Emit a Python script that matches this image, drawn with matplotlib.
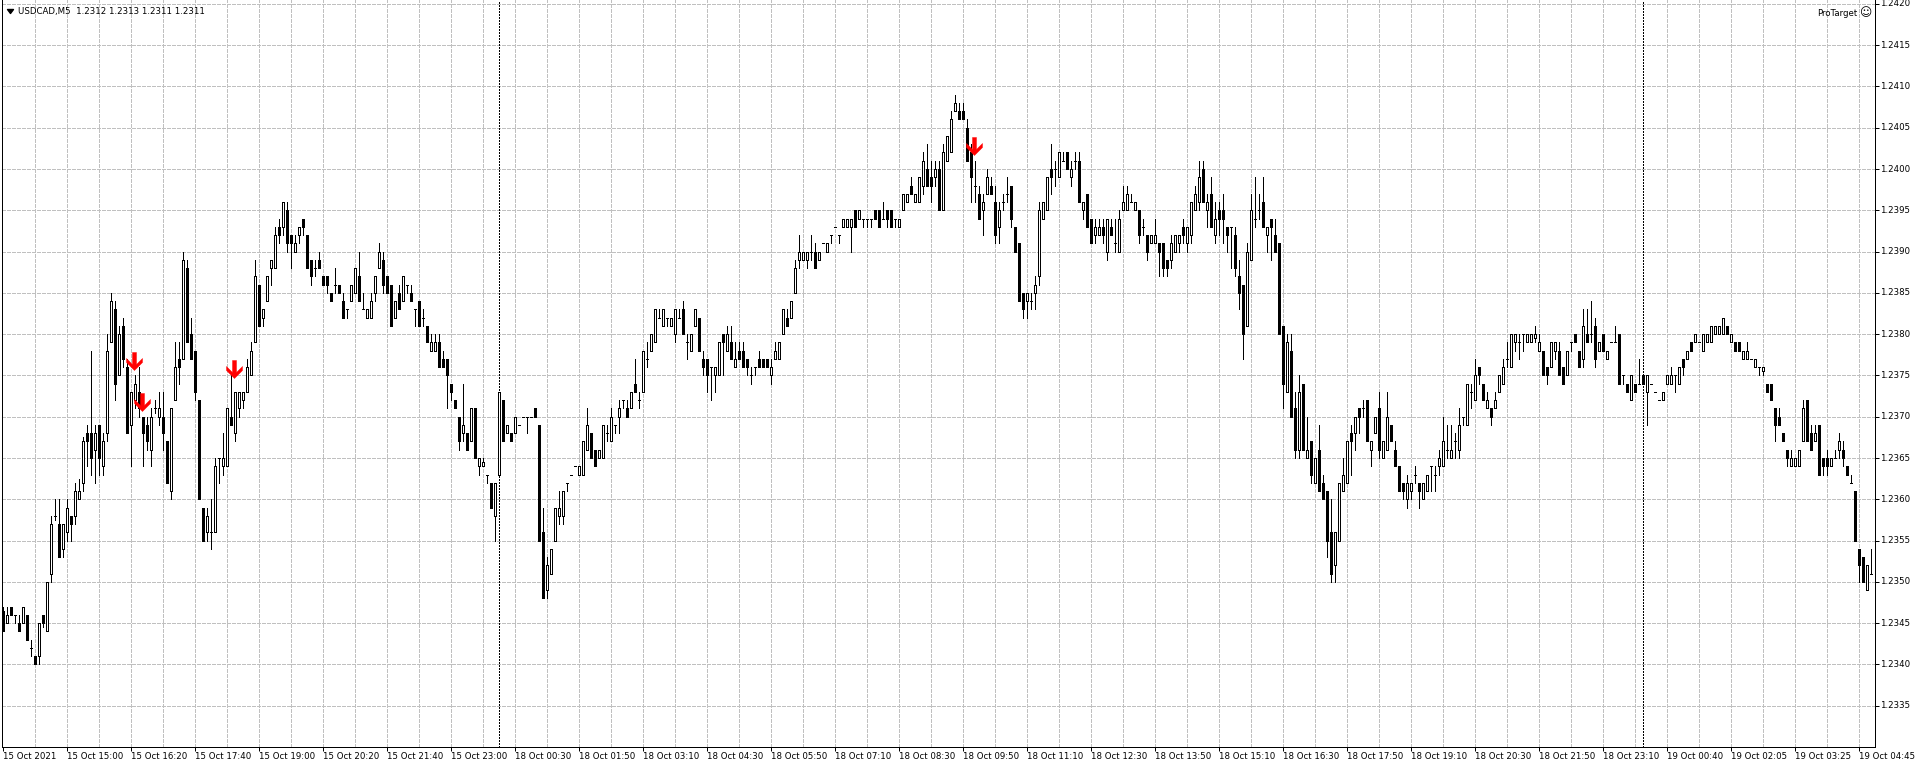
import matplotlib
matplotlib.use("Agg")
import matplotlib.pyplot as plt
import numpy as np
from matplotlib.path import Path
from matplotlib.lines import Line2D

# ---------------- data (USDCAD M5, prices as pips above 1.2300) ----------------
BASE = 1.2300
PIP = 0.0001

open_pips = [
    46.5, 45, 47, 46, 45, 45, 46, 42, 41, 41, 46, 44, 51, 58, 57, 54,
    56, 58, 58, 60, 62, 68, 68, 66, 69, 64, 68, 79, 83, 75, 81, 76,
    69, 72, 73, 70, 69, 66, 71, 70, 70, 67, 61, 72, 77, 77, 88, 80,
    78, 72, 59, 56, 56, 56, 65, 64, 64, 70, 68, 71, 72, 73, 75, 79,
    86, 82, 84, 88, 88, 93, 93, 95, 92, 90, 92, 94, 92, 89, 88, 89,
    87, 87, 85, 86, 86, 84, 83, 84, 85, 87, 83, 82, 82, 85, 88, 89,
    87, 86, 82, 85, 84, 86, 85, 83, 84, 82, 81, 78, 78, 79, 77, 77,
    74, 72, 70, 68, 68, 67, 71, 64, 64, 63, 62, 58, 63, 72, 68, 68,
    68, 69, 70, 70, 70, 71, 69, 56, 49, 51, 55, 58, 58, 62, 63, 64,
    63, 63, 66, 68, 66, 65, 65, 68, 67, 69, 70, 72, 71, 71, 74, 72,
    73, 77, 78, 79, 82, 81, 82, 81, 80, 82, 83, 79, 78, 81, 82, 77,
    77, 76, 75, 75, 80, 78, 79, 76, 78, 78, 77, 75, 76, 77, 77, 77,
    75, 77, 77, 80, 82, 82, 85, 89, 89, 89, 90, 90, 89, 91, 90, 92,
    93, 92, 93, 93, 93, 95, 94, 94, 94, 94, 95, 95, 94, 95, 95, 94,
    93, 95, 96, 98, 96, 96, 98, 100, 99, 99, 100, 95, 101, 102, 107, 107,
    107, 105, 102, 98, 97, 95, 97, 98, 96, 93, 96, 97, 98, 93, 91, 85,
    84, 84, 85, 87, 94, 95, 100, 100, 99, 101, 102, 99, 101, 101, 95, 97,
    94, 92, 92, 93, 90, 93, 91, 90, 95, 95, 96, 95, 95, 93, 92, 91,
    91, 91, 91, 89, 89, 90, 91, 93, 91, 92, 95, 96, 100, 95, 97, 92,
    95, 95, 93, 93, 92, 87, 86, 81, 89, 94, 95, 96, 92, 94, 92, 91,
    81, 73, 78, 71, 66, 74, 65, 67, 62, 66, 62, 61, 56, 52, 55, 61,
    62, 68, 68, 71, 71, 72, 66, 68, 71, 65, 66, 69, 66, 64, 62, 60,
    61, 63, 62, 60, 61, 64, 63, 64, 64, 66, 65, 67, 66, 70, 69, 73,
    72, 76, 74, 71, 71, 71, 73, 74, 77, 76, 79, 79, 80, 79, 79, 79.5,
    78, 78, 76, 76, 78, 78, 76, 75, 79, 80, 78, 77, 80, 80, 81, 78,
    80, 77, 79, 79, 80, 75, 74, 72, 74, 74, 75, 73, 74, 73, 72, 72,
    74, 74, 75, 74, 77, 77, 79, 79, 79, 78, 79, 79, 80, 80, 80, 81,
    79, 79, 79, 77, 77, 77, 76, 76, 75.5, 74, 74, 71, 70, 68, 66, 64,
    64, 64, 67, 72, 68, 67, 69, 65, 65, 64, 65, 66, 66, 64, 62, 61,
    54, 53, 49, 51,
]

high_pips = [
    47, 47, 47, 46, 46, 47, 46, 43, 41, 45, 46, 50, 58, 60, 60, 57,
    60, 58, 62, 62.5, 67.5, 69, 78, 69, 69, 68, 80, 85, 84, 81, 82, 77,
    73, 75, 76, 70, 70, 71, 72, 73, 73, 67, 71, 79, 79, 90, 89, 82,
    78, 72, 59, 59, 60, 65, 65, 68, 71, 75, 73, 73, 73, 77, 79, 89,
    86, 83, 87, 89, 93, 94, 96, 96, 92, 92, 93, 94, 92, 89, 89, 90,
    87, 87, 85, 88, 86, 85, 83, 86, 88, 90, 85, 83, 85, 87, 91, 90,
    87, 86, 84, 86, 87, 86, 86, 83, 84, 83, 81, 80, 80, 80, 78, 77,
    74, 72, 70, 74, 68, 71, 71, 65, 65, 63, 62, 62, 73, 72, 69, 68,
    70, 69, 70, 70, 70, 71, 69, 59, 53, 54, 59, 61, 61, 62, 63, 64,
    64, 67, 71, 68, 66, 66, 69, 69, 71, 69, 72, 72, 72, 73, 77, 73,
    78, 79, 80, 83, 83, 83, 82, 82, 83, 83, 84, 80, 80, 83, 82, 78,
    77, 76, 76, 79, 80, 81, 81, 79, 79, 79, 77, 76, 76, 78, 77, 77,
    77, 79, 79, 83, 83, 84, 89, 92, 90, 90, 92, 91, 90, 91, 91, 92,
    93, 92, 94, 94, 94, 95, 95, 94, 94, 94, 95, 95, 96, 95, 95, 94,
    94, 97, 97, 99, 97, 99, 102, 103, 101, 101, 101, 103, 104, 107, 109, 108,
    108, 106, 103, 101, 98, 97, 100, 99, 98, 96, 97, 99, 98, 93, 91, 85,
    85, 85, 87, 96, 96, 99, 103, 101, 102, 102, 102, 101, 102, 102, 96, 97,
    94, 94, 94, 94, 94, 94, 94, 95, 98, 98, 97, 96, 95, 94, 92, 92,
    94, 91, 91, 89, 92, 92, 92, 94, 93, 96, 98, 101, 101, 97, 99, 96,
    96, 97, 93, 93, 93, 89, 86, 91, 97, 99, 97, 99, 93, 94, 94, 91,
    81, 80, 80, 73, 75, 74, 70, 67, 65, 69, 63, 61, 60, 56, 62, 65,
    67, 69, 70, 71, 72, 72, 67, 70, 73, 67, 73, 69, 67, 64, 62, 63,
    62, 64, 62, 62, 63, 64, 64, 66, 70, 69, 69, 68, 71, 70, 74, 74,
    77, 76, 74, 73, 71, 73, 75, 77, 79, 80, 80, 80, 80, 80, 80, 81,
    80, 78, 76, 79, 79, 79, 76, 78, 79, 80, 78, 83, 83, 84, 82, 79,
    80, 78, 79, 81, 80, 75, 74, 75, 74, 77, 75, 75, 74, 73, 72, 73,
    75, 76, 75, 76, 77, 78, 79, 80, 79, 80, 80, 81, 81, 81, 82, 81,
    80, 79, 79, 78, 79, 77, 77, 76, 76, 74, 74, 71, 71, 68, 66, 66,
    65, 66, 72, 72, 69, 69, 69, 65, 66, 65, 66, 68, 67, 64, 63, 61,
    54, 53, 52, 54,
]

low_pips = [
    44, 45, 46, 45, 44, 45, 43, 41, 40, 40, 44.5, 44, 50, 57.5, 53, 53,
    55, 55, 57, 60, 61, 64, 63, 62, 63, 63, 67, 79, 72, 75, 76, 68,
    64, 71, 70, 64, 66, 64, 70.5, 69, 66, 62, 60, 72, 74, 77, 79, 77,
    72, 60, 55, 55, 54, 56, 62, 63, 64, 69, 67, 70, 71, 73, 75, 79,
    81, 81, 84, 86, 88, 91, 92, 90, 88, 90, 91, 92, 88, 86, 87, 88,
    86, 85, 84, 85, 85, 82, 82, 84, 85, 84, 83, 82, 82, 84, 88, 85,
    85, 81, 82, 83, 84, 85, 84, 81, 81, 81, 79, 78, 78, 76, 76, 71,
    72, 71, 66, 67, 66, 67, 65, 63, 64, 62, 59, 55, 63, 67, 68, 67,
    68, 69, 70, 68, 70, 70, 55, 48, 48, 51, 55, 57, 57, 61, 63, 64,
    63, 63, 66, 65, 64, 65, 65, 67, 67, 68, 68, 71, 70, 71, 73, 71,
    73, 76, 78, 79, 82, 81, 81, 81, 79, 82, 80, 77, 78, 81, 78, 75,
    73, 72, 73, 75, 75, 78, 77, 76, 77, 76, 75, 74, 75, 76, 76, 76,
    74, 77, 77, 80, 81, 82, 85, 88, 89, 88, 89, 88, 89, 91, 90, 91,
    93, 91, 93, 93, 90, 93, 94, 93, 93, 93, 94, 93, 94, 93, 93, 93,
    93, 95, 96, 97, 96, 96, 97, 98, 96, 98, 95, 95, 101, 102, 107, 106,
    106, 101, 96, 96, 94, 92, 97, 97, 91, 91, 95, 96, 93, 90, 84, 82,
    82, 83, 83, 86, 94, 95, 97, 98, 99, 101, 100, 98, 100, 96, 94, 93,
    91, 91, 92, 91, 89, 92, 90, 90, 95, 95, 96, 95, 91, 92, 89, 91,
    91, 87, 87, 87, 88, 90, 90, 91, 90, 91, 95, 95, 96, 93, 93, 91,
    92, 91, 90, 88, 87, 83, 77, 81, 89, 93, 94, 93, 90, 89, 90, 80,
    71, 73, 70, 65, 65, 66, 65, 62, 62, 61, 60, 53, 50, 50, 55, 61,
    62, 63, 66, 68, 70, 67, 64, 68, 65, 65, 66, 67, 64, 61, 60, 59,
    60, 62, 59, 60, 61, 61, 61, 63, 64, 65, 65, 65, 65, 69, 69, 71,
    72, 74, 72, 71, 69, 71, 73, 74, 76, 76, 78, 77, 78, 79, 79, 79,
    78, 75, 74, 76, 77, 75, 74, 75, 78, 79, 76, 76, 79, 79, 76, 78,
    78, 77, 79, 79, 74, 74, 73, 72, 73, 74, 74, 69, 74, 73, 72, 72,
    74, 74, 73, 74, 75, 77, 78, 79, 79, 78, 79, 79, 80, 80, 80, 80,
    79, 78, 78, 77, 77, 77, 76, 75, 75, 73, 72, 67, 69, 67, 64, 64,
    64, 64, 67, 67, 66, 67, 63, 63, 63, 64, 65, 65, 64, 63, 62, 55,
    50, 50, 49, 51,
]

close_pips = [
    44, 46, 46, 46, 44, 47, 43, 42, 40, 45, 45, 50, 57, 58, 53, 57,
    59, 57, 61, 61, 67, 67, 65, 68, 65, 67, 78, 84, 74, 80, 77, 68,
    73, 74, 71, 68, 67, 70, 71, 71, 68, 62, 71, 76, 76, 89, 79, 77,
    73, 60, 55, 58, 56, 64, 65, 65, 71, 69, 73, 73, 73, 76, 78, 87,
    81, 83, 87, 89, 92, 92, 96, 91, 91, 91, 93, 93, 88, 87, 88, 88,
    86, 86, 84, 86, 85, 82, 83, 86, 88, 84, 83, 83, 84, 87, 90, 86,
    85, 81, 84, 83, 87, 86, 84, 83, 81, 82, 79, 79, 79, 76, 76, 75,
    73, 71, 67, 69, 66, 71, 65, 65, 64.5, 63, 59, 62, 73, 67, 69, 67,
    70, 69, 70, 70, 70, 70, 55, 48, 52, 54, 59, 59, 61, 62, 63, 64,
    64, 67, 69, 65, 64, 66, 69, 68, 70, 69, 71, 72, 70, 73, 73, 72,
    78, 77, 80, 83, 82, 83, 82, 82, 83, 82, 80, 79, 80, 83, 78, 76,
    75, 76, 76, 79, 79, 80, 77, 77, 77, 76, 76, 75, 76, 76, 76, 76,
    76, 78, 79, 83, 81, 84, 88, 90, 90, 90, 90, 88, 90, 91, 91, 92,
    93, 92, 94, 94, 94, 93, 95, 94, 94, 94, 94, 93, 94, 94, 93, 94,
    94, 97, 97, 97, 97, 99, 101, 98, 98, 100, 95, 102, 104, 106, 108, 106,
    106, 101, 99, 98, 94, 96, 99, 97, 92, 95, 96, 97, 94, 90, 84, 83,
    85, 84, 86, 95, 96, 99, 99, 100, 102, 101, 100, 100, 101, 96, 96, 93,
    91, 93, 93, 92, 94, 92, 91, 94, 96, 97, 96, 96, 92, 93, 90, 92,
    92, 90, 88, 88, 91, 92, 92, 92, 93, 96, 97, 99, 96, 96, 93, 94,
    94, 94, 92, 93, 88, 85, 80, 90, 95, 94, 95, 93, 93, 93, 90, 80,
    74, 79, 70, 66, 73, 66, 66, 63, 65, 61, 60, 55, 51, 56, 62, 63,
    67, 67, 70, 70, 71, 67, 67, 70, 66, 67, 70, 67, 64, 61, 61, 62,
    62, 63, 61, 62, 63, 64, 63, 65, 67, 66, 66, 67, 69, 70, 74, 73,
    75, 75, 72, 72, 70, 72, 75, 76, 77, 80, 80, 79, 80, 80, 80, 80,
    79, 75, 75, 79, 79, 75, 74, 78, 79, 79, 76, 81, 79, 80, 77, 79,
    78, 78, 79, 79, 74, 75, 73, 75, 73, 74, 74, 75, 74, 73, 72, 73,
    75, 75, 75, 76, 76, 78, 78, 80, 79, 80, 80, 81, 81, 81, 82, 80,
    80, 78, 78, 78, 78, 77, 77, 76, 76, 73, 72, 69, 69, 67, 65, 65,
    65, 66, 71, 67, 66, 68, 63, 64, 64, 65, 65, 67, 65, 63, 62, 55,
    52, 50, 52, 51,
]

tick_bars = list(range(0, 465, 16))
tick_labels = [
    "15 Oct 2021", "15 Oct 15:00", "15 Oct 16:20", "15 Oct 17:40", "15 Oct 19:00",
    "15 Oct 20:20", "15 Oct 21:40", "15 Oct 23:00", "18 Oct 00:30", "18 Oct 01:50",
    "18 Oct 03:10", "18 Oct 04:30", "18 Oct 05:50", "18 Oct 07:10", "18 Oct 08:30",
    "18 Oct 09:50", "18 Oct 11:10", "18 Oct 12:30", "18 Oct 13:50", "18 Oct 15:10",
    "18 Oct 16:30", "18 Oct 17:50", "18 Oct 19:10", "18 Oct 20:30", "18 Oct 21:50",
    "18 Oct 23:10", "19 Oct 00:40", "19 Oct 02:05", "19 Oct 03:25", "19 Oct 04:45",
]
separator_bars = [124, 410]
arrow_bars = [32, 34, 57, 242]
arrow_prices = [1.23767, 1.23718, 1.23758, 1.24028]
price_ticks = [1.2335 + 0.0005 * k for k in range(18)]
title_text = "USDCAD,M5  1.2312 1.2313 1.2311 1.2311"
indicator_text = "ProTarget"

# ---------------- derived arrays ----------------
opens = BASE + np.array(open_pips) * PIP
closes = BASE + np.array(close_pips) * PIP
highs = np.maximum.reduce([BASE + np.array(high_pips) * PIP, opens, closes])
lows = np.minimum.reduce([BASE + np.array(low_pips) * PIP, opens, closes])
idx = np.arange(len(opens))

# ---------------- figure ----------------
W, H = 1916, 768
PX = 0.72  # one pixel in points at dpi 100
plt.rcParams["font.family"] = ["DejaVu Sans"]
plt.rcParams["font.size"] = 6.2

fig = plt.figure(figsize=(19.161, 7.681), dpi=100, facecolor="white")
ax = fig.add_axes([2 / W, 21 / H, 1873 / W, 747 / H])
XMIN, XMAX = -0.25, 468
YMIN, YMAX = 1.23300, 1.242048
ax.set_xlim(XMIN, XMAX)
ax.set_ylim(YMIN, YMAX)

grid_col = "#C0C0C0"
ax.hlines(price_ticks, XMIN, XMAX, colors=grid_col, linewidth=PX,
          linestyles=(0, (4, 2)), antialiased=False, zorder=0)
ax.vlines(np.arange(8, 468, 8), YMIN, YMAX, colors=grid_col, linewidth=PX,
          linestyles=(0, (4, 2)), antialiased=False, zorder=0)
ax.vlines(separator_bars, YMIN, YMAX, colors="black", linewidth=PX,
          linestyles=(0, (2, 2)), antialiased=False, zorder=1)

# wicks
ax.vlines(idx, lows, highs, colors="black", linewidth=PX, antialiased=False, zorder=2)
# bodies
up = closes > opens
face = np.where(up, "white", "black")
ax.bar(idx, np.abs(closes - opens), bottom=np.minimum(opens, closes), width=0.5,
       color=face, edgecolor="black", linewidth=PX, antialiased=False, zorder=3)

# red down arrows
arrow_path = Path([(0, -9), (8, -1), (8, 3), (2, -3), (2, 9), (-2, 9), (-2, -3),
                   (-8, 3), (-8, -1), (0, -9)], closed=True)
ax.plot(np.array(arrow_bars) + 0.75, arrow_prices, linestyle="none", marker=arrow_path,
        markersize=18 * PX, markerfacecolor="#FF0000", markeredgecolor="#FF0000",
        markeredgewidth=0.3, zorder=5)

# spines
for s in ["left", "bottom", "right"]:
    ax.spines[s].set_color("black")
    ax.spines[s].set_linewidth(PX)
ax.spines["top"].set_visible(False)

# ticks
ax.set_xticks(tick_bars)
ax.set_xticklabels(tick_labels, ha="left")
ax.tick_params(axis="x", direction="out", length=4 * PX, width=PX, pad=0.8,
               labelsize=6.2, colors="black")
ax.yaxis.tick_right()
ax.set_yticks(price_ticks)
ax.set_yticklabels([f"{p:.4f}" for p in price_ticks])
ax.tick_params(axis="y", direction="out", length=4 * PX, width=PX, pad=0.8,
               labelsize=6.2, colors="black")
for lab in ax.get_yticklabels():
    lab.set_verticalalignment("center")
ax.set_facecolor("white")

# title and indicator label
tri = Path([(-3, 2), (3, 2), (0, -2), (-3, 2)], closed=True)
fig.add_artist(Line2D([10 / W], [1 - 11 / H], marker=tri, markersize=6 * PX,
                      color="black", linestyle="none", transform=fig.transFigure))
fig.text(18 / W, 1 - 11 / H, title_text, ha="left", va="center", fontsize=6.2, color="black")
fig.text(1857 / W, 1 - 13 / H, indicator_text, ha="right", va="center", fontsize=6.2,
         color="black")
fig.text(1865 / W, 1 - 13 / H, "\u263A", ha="center", va="center", fontsize=8.5,
         color="black")

fig.savefig("out.png", dpi=100, facecolor="white")
